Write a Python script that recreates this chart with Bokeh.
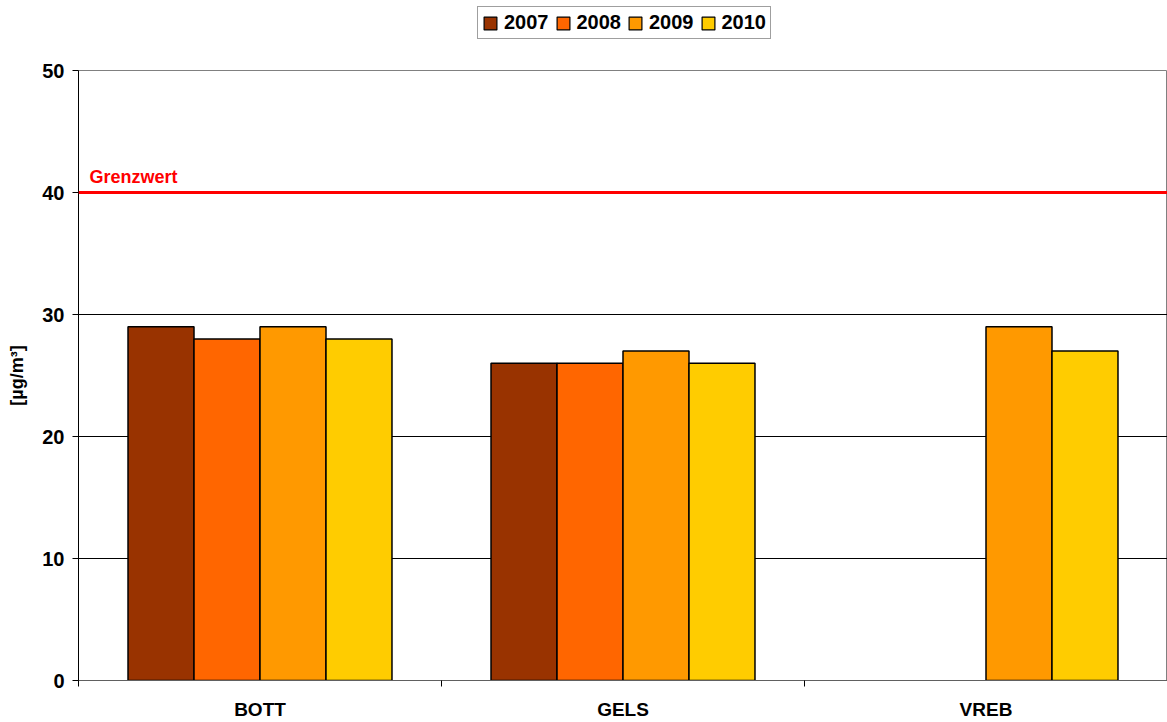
from bokeh.plotting import figure
from bokeh.models import (ColumnDataSource, Range1d, FixedTicker, Span, Label,
                          Legend, LegendItem)
from bokeh.layouts import column
from bokeh.transform import dodge
from bokeh.embed import file_html
from bokeh.resources import INLINE
import math

stations = ["BOTT", "GELS", "VREB"]
years = ["2007", "2008", "2009", "2010"]
v2007 = [29, 26, math.nan]
v2008 = [28, 26, math.nan]
v2009 = [29, 27, 29]
v2010 = [28, 26, 27]
colors = ["#993300", "#FF6600", "#FF9900", "#FFCC00"]
limit_value = 40
limit_label = "Grenzwert"
y_ticks = [0, 10, 20, 30, 40, 50]

FONT = "Liberation Sans"

centers = [i + 0.5 for i in range(len(stations))]
source = ColumnDataSource(dict(x=centers, y2007=v2007, y2008=v2008,
                               y2009=v2009, y2010=v2010))
cols = ["y2007", "y2008", "y2009", "y2010"]

# ---------------- main chart ----------------
p = figure(width=1167, height=667, output_backend="svg", toolbar_location=None,
           x_range=Range1d(0, len(stations)), y_range=Range1d(0, 50),
           min_border_left=78, min_border_right=0, min_border_top=15,
           min_border_bottom=42)
p.background_fill_color = "white"
p.border_fill_color = "white"
p.outline_line_color = "#808080"
p.outline_line_width = 1

w = 0.1818
for k, (col, c) in enumerate(zip(cols, colors)):
    p.vbar(x=dodge("x", (k - 1.5) * w, range=p.x_range), top=col, bottom=0,
           width=w, source=source, fill_color=c, line_color="black",
           line_width=1.5)

p.xgrid.visible = False
p.ygrid.ticker = FixedTicker(ticks=[10, 20, 30, 40])
p.ygrid.grid_line_color = "#000000"
p.ygrid.grid_line_width = 1

p.add_layout(Span(location=limit_value, dimension="width", line_color="#FF0000",
                  line_width=3))
p.add_layout(Label(x=0, y=limit_value, x_offset=11, y_offset=16, text=limit_label,
                   text_color="#FF0000", text_font=FONT, text_font_style="bold",
                   text_font_size="18px", text_baseline="alphabetic"))

ya = p.yaxis[0]
ya.ticker = FixedTicker(ticks=y_ticks, minor_ticks=[])
ya.axis_line_color = "black"
ya.major_tick_line_color = "black"
ya.major_tick_out = 6
ya.major_tick_in = 0
ya.minor_tick_line_color = None
ya.major_label_text_font = FONT
ya.major_label_text_font_style = "bold"
ya.major_label_text_font_size = "20px"
ya.major_label_text_color = "black"
ya.major_label_standoff = 8
ya.axis_label = "[µg/m³]"
ya.axis_label_text_font = FONT
ya.axis_label_text_font_style = "bold"
ya.axis_label_text_font_size = "18px"
ya.axis_label_text_color = "black"
ya.axis_label_standoff = 12

xa = p.xaxis[0]
xa.ticker = FixedTicker(ticks=centers, minor_ticks=[0, 1, 2, 3])
xa.major_label_overrides = {c: s for c, s in zip(centers, stations)}
xa.axis_line_color = "#606060"
xa.major_tick_out = 0
xa.major_tick_in = 0
xa.major_tick_line_color = None
xa.minor_tick_out = 6
xa.minor_tick_in = 0
xa.minor_tick_line_color = "black"
xa.major_label_text_font = FONT
xa.major_label_text_font_style = "bold"
xa.major_label_text_font_size = "19px"
xa.major_label_text_color = "black"
xa.major_label_standoff = 12

# ---------------- legend strip ----------------
# the strip's y range lies far above the data, so its bars are not drawn;
# they only serve as legend proxies
lf = figure(width=1167, height=55, output_backend="svg", toolbar_location=None,
            x_range=Range1d(0, len(stations)), y_range=Range1d(1000, 1001),
            min_border_left=0, min_border_right=0, min_border_top=0,
            min_border_bottom=0)
lf.axis.visible = False
lf.grid.visible = False
lf.outline_line_color = None
lf.background_fill_color = "white"
lf.border_fill_color = "white"
leg_renderers = [lf.vbar(x="x", top=col, bottom=0, width=w, source=source,
                         fill_color=c, line_color="black", line_width=1.2)
                 for col, c in zip(cols, colors)]

legend = Legend(items=[LegendItem(label=y, renderers=[r], index=1)
                       for y, r in zip(years, leg_renderers)],
                orientation="horizontal", location=(399, 16))
legend.label_text_font = FONT
legend.label_text_font_style = "bold"
legend.label_text_font_size = "20px"
legend.label_text_color = "black"
legend.border_line_color = "#404040"
legend.border_line_width = 1
legend.background_fill_color = "white"
legend.background_fill_alpha = 1
legend.glyph_width = 16
legend.glyph_height = 16
legend.label_standoff = 6
legend.spacing = 6
legend.padding = 4
legend.margin = 0
legend.label_height = 21
lf.add_layout(legend, "center")

layout = column(lf, p, spacing=0)
open("out.html", "w").write(file_html(layout, INLINE))
